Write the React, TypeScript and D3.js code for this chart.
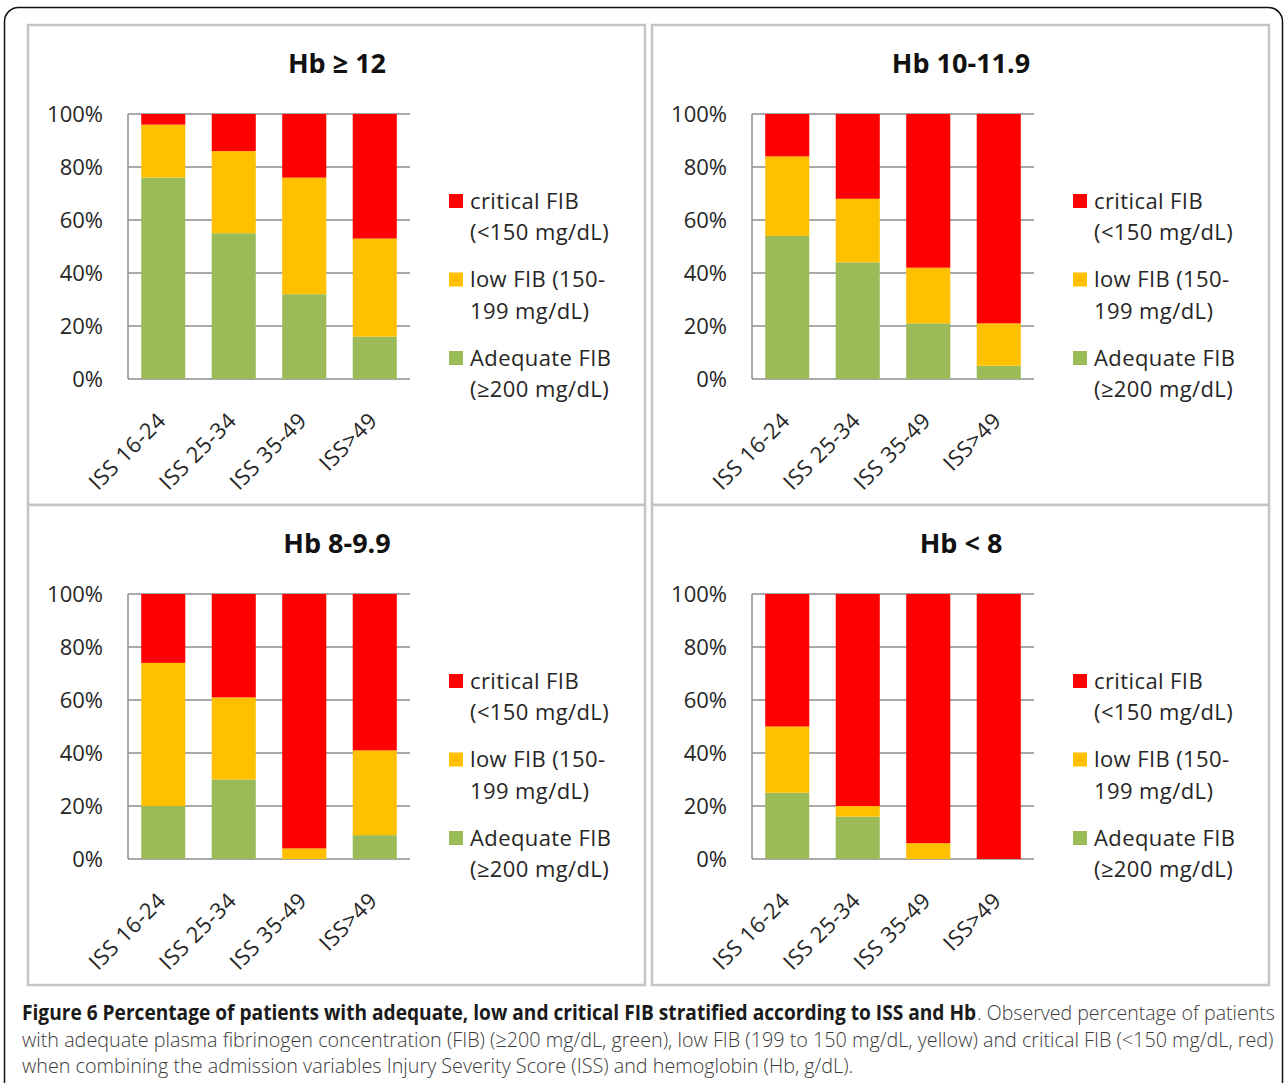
import React, { useEffect, useRef } from 'react';
import * as d3 from 'd3';

const categories = ['ISS 16-24', 'ISS 25-34', 'ISS 35-49', 'ISS>49'];
const panelTitles = ['Hb ≥ 12', 'Hb 10-11.9', 'Hb 8-9.9', 'Hb < 8'];

// percentages per panel, one value per ISS category
const adequateFib = [
  [76, 55, 32, 16],
  [54, 44, 21, 5],
  [20, 30, 0, 9],
  [25, 16, 0, 0],
];
const lowFib = [
  [20, 31, 44, 37],
  [30, 24, 21, 16],
  [54, 31, 4, 32],
  [25, 4, 6, 0],
];
const criticalFib = [
  [4, 14, 24, 47],
  [16, 32, 58, 79],
  [26, 39, 96, 59],
  [50, 80, 94, 100],
];

const yTicks = [0, 20, 40, 60, 80, 100];

const legendItems = [
  { key: 'critical', lines: ['critical FIB', '(<150 mg/dL)'] },
  { key: 'low', lines: ['low FIB (150-', '199 mg/dL)'] },
  { key: 'adequate', lines: ['Adequate FIB', '(≥200 mg/dL)'] },
];

const captionBold =
  'Figure 6 Percentage of patients with adequate, low and critical FIB stratified according to ISS and Hb';
const captionRest = [
  '. Observed percentage of patients',
  'with adequate plasma fibrinogen concentration (FIB) (≥200 mg/dL, green), low FIB (199 to 150 mg/dL, yellow) and critical FIB (<150 mg/dL, red)',
  'when combining the admission variables Injury Severity Score (ISS) and hemoglobin (Hb, g/dL).',
];

const colors: Record<string, string> = {
  adequate: '#9BBB59',
  low: '#FFC000',
  critical: '#FF0000',
};

const FONT = '"Open Sans", "Noto Sans", sans-serif';

const App = () => {
  const ref = useRef<SVGSVGElement>(null);

  useEffect(() => {
    const width = 1287;
    const height = 1083;
    const svg = d3.select(ref.current);
    svg.selectAll('*').remove();

    svg.append('rect').attr('width', width).attr('height', height).attr('fill', '#fff');

    // outer frame (bottom edge runs off the page)
    svg
      .append('rect')
      .attr('x', 4.5)
      .attr('y', 7.5)
      .attr('width', 1278)
      .attr('height', 1120)
      .attr('rx', 14)
      .attr('fill', 'none')
      .attr('stroke', '#111')
      .attr('stroke-width', 1.5);

    const origins = [
      [28, 25],
      [652, 25],
      [28, 505],
      [652, 505],
    ];

    origins.forEach(([ox, oy], p) => {
      const g = svg.append('g');

      g.append('rect')
        .attr('x', ox)
        .attr('y', oy)
        .attr('width', 617)
        .attr('height', 480)
        .attr('fill', '#fff')
        .attr('stroke', '#c4c4c4')
        .attr('stroke-width', 2.5);

      const x = d3
        .scaleBand()
        .domain(categories)
        .range([ox + 100, ox + 382])
        .paddingInner(0.375)
        .paddingOuter(0.1875);

      const y = d3
        .scaleLinear()
        .domain([0, 100])
        .range([oy + 354, oy + 89]);

      // gridlines
      g.selectAll('line.grid')
        .data(yTicks)
        .join('line')
        .attr('class', 'grid')
        .attr('x1', ox + 100)
        .attr('x2', ox + 382)
        .attr('y1', (d) => y(d))
        .attr('y2', (d) => y(d))
        .attr('stroke', '#8c8c8c')
        .attr('stroke-width', 1.5);

      g.append('line')
        .attr('x1', ox + 100)
        .attr('x2', ox + 100)
        .attr('y1', y(0))
        .attr('y2', y(100))
        .attr('stroke', '#8c8c8c')
        .attr('stroke-width', 1.5);

      // y labels
      g.selectAll('text.ytick')
        .data(yTicks)
        .join('text')
        .attr('class', 'ytick')
        .attr('x', ox + 75)
        .attr('y', (d) => y(d))
        .attr('dy', '0.36em')
        .attr('text-anchor', 'end')
        .attr('font-family', FONT)
        .attr('font-size', 22)
        .attr('fill', '#262626')
        .text((d) => `${d}%`);

      // stacked bars
      const rows = categories.map((c, i) => ({
        cat: c,
        adequate: adequateFib[p][i],
        low: lowFib[p][i],
        critical: criticalFib[p][i],
      }));
      const stacked = d3.stack<any>().keys(['adequate', 'low', 'critical'])(rows);

      g.selectAll('g.series')
        .data(stacked)
        .join('g')
        .attr('class', 'series')
        .attr('fill', (s) => colors[s.key])
        .selectAll('rect')
        .data((s) => s)
        .join('rect')
        .attr('x', (d) => x(d.data.cat)!)
        .attr('width', x.bandwidth())
        .attr('y', (d) => y(d[1]))
        .attr('height', (d) => y(d[0]) - y(d[1]));

      // x labels
      g.selectAll('text.xtick')
        .data(categories)
        .join('text')
        .attr('class', 'xtick')
        .attr('text-anchor', 'end')
        .attr('font-family', FONT)
        .attr('font-size', 22)
        .attr('letter-spacing', 0.5)
        .attr('fill', '#262626')
        .attr(
          'transform',
          (d) => `translate(${x(d)! + x.bandwidth() / 2 + 4},${y(0) + 43}) rotate(-45)`
        )
        .text((d) => d);

      // title
      g.append('text')
        .attr('x', ox + 309)
        .attr('y', oy + 48)
        .attr('text-anchor', 'middle')
        .attr('font-family', FONT)
        .attr('font-weight', 'bold')
        .attr('font-size', 27)
        .attr('fill', '#111')
        .text(panelTitles[p]);

      // legend
      legendItems.forEach((item, k) => {
        const cy = oy + 176 + k * 78.5;
        g.append('rect')
          .attr('x', ox + 421)
          .attr('y', cy - 7)
          .attr('width', 14)
          .attr('height', 14)
          .attr('fill', colors[item.key]);
        item.lines.forEach((line, j) => {
          g.append('text')
            .attr('x', ox + 442)
            .attr('y', cy + j * 31.5)
            .attr('dy', '0.36em')
            .attr('font-family', FONT)
            .attr('font-size', 22)
            .attr('letter-spacing', 0.4)
            .attr('fill', '#262626')
            .text(line);
        });
      });
    });

    // caption: condensed horizontally, first two lines justified
    const cap = svg.append('g').attr('font-family', FONT).attr('font-size', 21);

    const bold = cap
      .append('text')
      .attr('font-weight', 'bold')
      .attr('fill', '#1a1a1a')
      .text(captionBold);
    const boldW = (bold.node() as SVGTextElement).getComputedTextLength();
    bold.attr('transform', `translate(22,1020) scale(${955 / boldW},1)`);

    const restNodes = captionRest.map((t) =>
      cap.append('text').attr('font-weight', 300).attr('fill', '#3a3a3a').text(t)
    );
    const line2W = (restNodes[1].node() as SVGTextElement).getComputedTextLength();
    const sx = 1253 / line2W;
    const layout = [
      { x: 977, y: 1020, w: 298 },
      { x: 22, y: 1047, w: 0 },
      { x: 22, y: 1073, w: 0 },
    ];
    restNodes.forEach((node, i) => {
      const { x: lx, y: ly, w } = layout[i];
      let scale = sx;
      if (w > 0) {
        const natural = (node.node() as SVGTextElement).getComputedTextLength();
        const spaces = captionRest[i].split(' ').length - 1;
        const extra = (w / sx - natural) / spaces;
        if (extra > 0) node.attr('word-spacing', extra);
        else scale = w / natural;
      }
      node.attr('transform', `translate(${lx},${ly}) scale(${scale},1)`);
    });
  }, []);

  return (
    <svg
      ref={ref}
      width={1287}
      height={1083}
      style={{ position: 'absolute', left: 0, top: 0, display: 'block' }}
    />
  );
};

export default App;
